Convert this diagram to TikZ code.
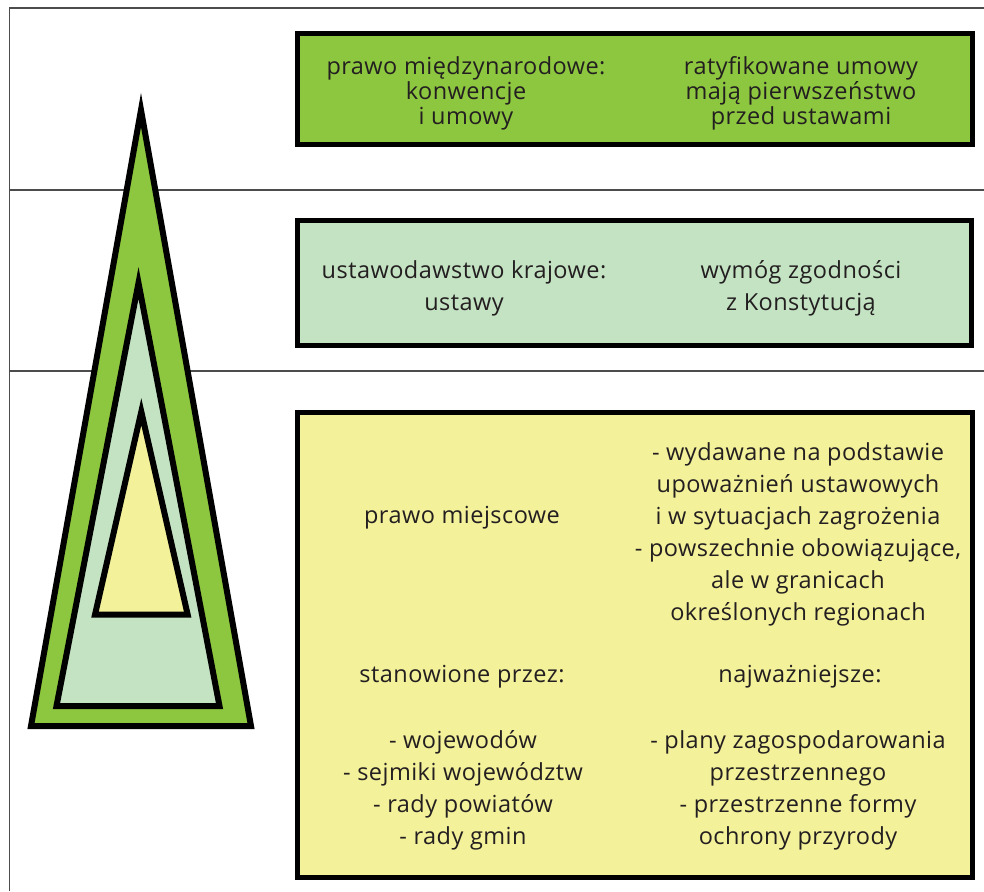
\documentclass[tikz,border=0pt]{standalone}
\usepackage{fontspec}
\setmainfont{Open Sans}[LetterSpace=2]
\usetikzlibrary{positioning}
\definecolor{lawgreen}{HTML}{8DC63F}
\definecolor{lawmint}{HTML}{C4E3C3}
\definecolor{lawyellow}{HTML}{F4F19B}
\definecolor{lawink}{HTML}{231F20}
\tikzset{
  frameline/.style={line width=1.4pt,black!70},
  lvlbox/.style={draw=black,line width=5pt},
  lvltri/.style={draw=black,line width=6pt,line join=miter},
  lvltext/.style={font=\fontsize{23.5}{32}\selectfont,text=lawink,align=center,
    inner sep=0pt},
  lvltight/.style={lvltext,font=\fontsize{23.5}{25}\selectfont},
}

\begin{document}
\begin{tikzpicture}[x=1pt,y=-1pt]
  \useasboundingbox (0,0) rectangle (984,891);
  % frame and level separators
  \draw[frameline] (9.5,891) -- (9.5,8) -- (984,8);
  \draw[frameline] (9.5,190) -- (984,190);
  \draw[frameline] (9.5,371) -- (984,371);
  % nested triangles
  \draw[lvltri,fill=lawgreen] (141,110) -- (251,726) -- (31,726) -- cycle;
  \draw[lvltri,fill=lawmint] (138.5,283) -- (219.5,706) -- (56.5,706) -- cycle;
  \draw[lvltri,fill=lawyellow] (141.3,411.7) -- (187.7,614.7) -- (95,614.7) -- cycle;
  % level boxes
  \draw[lvlbox,fill=lawgreen] (297.5,33.5) rectangle (972.5,144.5);
  \draw[lvlbox,fill=lawmint] (297.5,220) rectangle (971.5,345.5);
  \draw[lvlbox,fill=lawyellow] (297.5,412.5) rectangle (972.5,877.5);
  % texts
  \node[lvltight] (intlL) at (466,93.5) {prawo międzynarodowe:\\konwencje\\i umowy};
  \node[lvltight] (intlR) at (801,93.5) {ratyfikowane umowy\\mają pierwszeństwo\\przed ustawami};
  \node[lvltext] (natlL) at (464,288.5) {ustawodawstwo krajowe:\\ustawy};
  \node[lvltext] (natlR) at (801,288.5) {wymóg zgodności\\z Konstytucją};
  \node[lvltext,anchor=base] (locL) at (462,523.5) {prawo miejscowe};
  \node[lvltext] (locR) at (798,534) {- wydawane na podstawie\\upoważnień ustawowych\\i w sytuacjach zagrożenia\\- powszechnie obowiązujące,\\ale w granicach\\określonych regionach};
  \node[lvltext,anchor=base] (madeby) at (462,682.5) {stanowione przez:};
  \node[lvltext,anchor=base] (mainacts) at (800,682.5) {najważniejsze:};
  \node[lvltext] (madebyL) at (463,790) {- wojewodów\\- sejmiki województw\\- rady powiatów\\- rady gmin};
  \node[lvltext] (mainactsL) at (798,790) {- plany zagospodarowania\\przestrzennego\\- przestrzenne formy\\ochrony przyrody};
\end{tikzpicture}
\end{document}
